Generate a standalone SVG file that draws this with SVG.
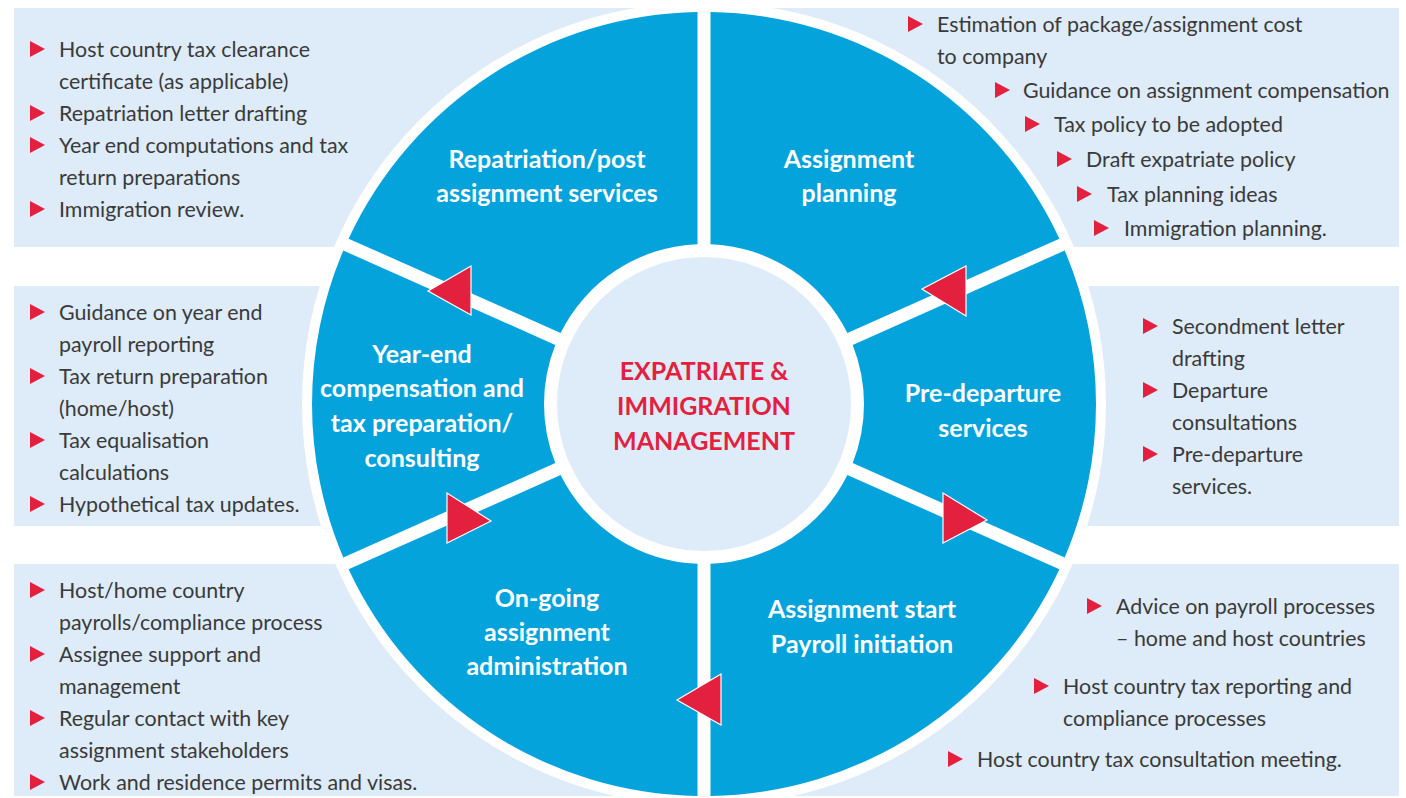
<svg xmlns="http://www.w3.org/2000/svg" xmlns:xlink="http://www.w3.org/1999/xlink" width="1406" height="798" viewBox="0 0 1406 798">
<style>
.box{fill:#DEEBF8}
.seg{fill:#05A3DC}
.bt{font-family:Lato,"Open Sans",sans-serif;font-size:21.4px;fill:#3A3A3A}
.lbl{font-family:Lato,"Open Sans",sans-serif;font-size:25px;font-weight:bold;fill:#FFFFFF;text-anchor:middle}
.ctr{font-family:Lato,"Open Sans",sans-serif;font-size:25px;font-weight:bold;fill:#E4203F;text-anchor:middle}
.bul{fill:#E4203F}
.arr{fill:#E4203F;stroke:#FFFFFF;stroke-width:1.2}
</style>
<defs>
<path id="b" d="M0,-8L15,0L0,8Z"/>
</defs>
<rect width="1406" height="798" fill="#FFFFFF"/>
<g id="panel-repatriation">
<rect class="box" x="14" y="8" width="690" height="239"/>
<g class="bul"><use xlink:href="#b" x="30" y="49"/><use xlink:href="#b" x="30" y="113"/><use xlink:href="#b" x="30" y="145"/><use xlink:href="#b" x="30" y="209"/></g>
<text class="bt"><tspan x="59" y="57">Host country tax clearance</tspan><tspan x="59" y="89">certificate (as applicable)</tspan><tspan x="59" y="121">Repatriation letter drafting</tspan><tspan x="59" y="153">Year end computations and tax</tspan><tspan x="59" y="185">return preparations</tspan><tspan x="59" y="217">Immigration review.</tspan></text>
</g>
<g id="panel-planning">
<rect class="box" x="704" y="8" width="695" height="239"/>
<g class="bul"><use xlink:href="#b" x="908" y="24"/><use xlink:href="#b" x="995" y="90"/><use xlink:href="#b" x="1025" y="124"/><use xlink:href="#b" x="1057" y="159"/><use xlink:href="#b" x="1077" y="194"/><use xlink:href="#b" x="1094" y="228"/></g>
<text class="bt"><tspan x="937" y="32">Estimation of package/assignment cost</tspan><tspan x="937" y="64">to company</tspan><tspan x="1023" y="98">Guidance on assignment compensation</tspan><tspan x="1054" y="132">Tax policy to be adopted</tspan><tspan x="1086" y="167">Draft expatriate policy</tspan><tspan x="1107" y="202">Tax planning ideas</tspan><tspan x="1124" y="236">Immigration planning.</tspan></text>
</g>
<g id="panel-yearend">
<rect class="box" x="14" y="286" width="340" height="240"/>
<g class="bul"><use xlink:href="#b" x="30" y="312"/><use xlink:href="#b" x="30" y="376"/><use xlink:href="#b" x="30" y="440"/><use xlink:href="#b" x="30" y="504"/></g>
<text class="bt"><tspan x="59" y="320">Guidance on year end</tspan><tspan x="59" y="352">payroll reporting</tspan><tspan x="59" y="384">Tax return preparation</tspan><tspan x="59" y="416">(home/host)</tspan><tspan x="59" y="448">Tax equalisation</tspan><tspan x="59" y="480">calculations</tspan><tspan x="59" y="512">Hypothetical tax updates.</tspan></text>
</g>
<g id="panel-predeparture">
<rect class="box" x="1060" y="286" width="339" height="240"/>
<g class="bul"><use xlink:href="#b" x="1143" y="326"/><use xlink:href="#b" x="1143" y="390"/><use xlink:href="#b" x="1143" y="454"/></g>
<text class="bt"><tspan x="1172" y="334">Secondment letter</tspan><tspan x="1172" y="366">drafting</tspan><tspan x="1172" y="398">Departure</tspan><tspan x="1172" y="430">consultations</tspan><tspan x="1172" y="462">Pre-departure</tspan><tspan x="1172" y="494">services.</tspan></text>
</g>
<g id="panel-ongoing">
<rect class="box" x="14" y="564" width="690" height="232"/>
<g class="bul"><use xlink:href="#b" x="30" y="590"/><use xlink:href="#b" x="30" y="654"/><use xlink:href="#b" x="30" y="718"/><use xlink:href="#b" x="30" y="782"/></g>
<text class="bt"><tspan x="59" y="598">Host/home country</tspan><tspan x="59" y="630">payrolls/compliance process</tspan><tspan x="59" y="662">Assignee support and</tspan><tspan x="59" y="694">management</tspan><tspan x="59" y="726">Regular contact with key</tspan><tspan x="59" y="758">assignment stakeholders</tspan><tspan x="59" y="790">Work and residence permits and visas.</tspan></text>
</g>
<g id="panel-start">
<rect class="box" x="704" y="564" width="695" height="232"/>
<g class="bul"><use xlink:href="#b" x="1087" y="606"/><use xlink:href="#b" x="1034" y="686"/><use xlink:href="#b" x="948" y="759"/></g>
<text class="bt"><tspan x="1116" y="614">Advice on payroll processes</tspan><tspan x="1116" y="646">– home and host countries</tspan><tspan x="1063" y="694">Host country tax reporting and</tspan><tspan x="1063" y="726">compliance processes</tspan><tspan x="977" y="767">Host country tax consultation meeting.</tspan></text>
</g>
<circle cx="704" cy="404" r="402" fill="#FFFFFF"/>
<g id="node-planning">
<path class="seg" d="M710.5,12.05A392,392 0 0 1 1059.42,238.64L847.4,333.03A160,160 0 0 0 710.5,244.13Z"/>
<text class="lbl"><tspan x="849" y="168">Assignment</tspan><tspan x="849" y="202">planning</tspan></text>
</g>
<g id="node-predeparture">
<path class="seg" d="M1064.7,250.52A392,392 0 0 1 1064.7,557.48L852.69,463.08A160,160 0 0 0 852.69,344.92Z"/>
<text class="lbl"><tspan x="983" y="402">Pre-departure</tspan><tspan x="983" y="437">services</tspan></text>
</g>
<g id="node-start">
<path class="seg" d="M710.5,795.95A392,392 0 0 0 1059.42,569.36L847.4,474.97A160,160 0 0 1 710.5,563.87Z"/>
<text class="lbl"><tspan x="862" y="618">Assignment start</tspan><tspan x="862" y="653">Payroll initiation</tspan></text>
</g>
<g id="node-ongoing">
<path class="seg" d="M697.5,795.95L697.5,563.87A160,160 0 0 1 560.6,474.97L348.58,569.36A392,392 0 0 0 697.5,795.95Z"/>
<text class="lbl"><tspan x="547" y="607">On-going</tspan><tspan x="547" y="641">assignment</tspan><tspan x="547" y="675">administration</tspan></text>
</g>
<g id="node-yearend">
<path class="seg" d="M343.3,250.52L555.31,344.92A160,160 0 0 0 555.31,463.08L343.3,557.48A392,392 0 0 1 343.3,250.52Z"/>
<text class="lbl"><tspan x="422" y="363">Year-end</tspan><tspan x="422" y="397">compensation and</tspan><tspan x="422" y="432">tax preparation/</tspan><tspan x="422" y="467">consulting</tspan></text>
</g>
<g id="node-repatriation">
<path class="seg" d="M697.5,12.05L697.5,244.13A160,160 0 0 0 560.6,333.03L348.58,238.64A392,392 0 0 1 697.5,12.05Z"/>
<text class="lbl"><tspan x="547" y="168">Repatriation/post</tspan><tspan x="547" y="202">assignment services</tspan></text>
</g>
<g id="node-center">
<circle cx="704" cy="404" r="147" fill="#DEEBF8"/>
<text class="ctr"><tspan x="704" y="380">EXPATRIATE &amp;</tspan><tspan x="704" y="415">IMMIGRATION</tspan><tspan x="704" y="450">MANAGEMENT</tspan></text>
</g>
<g id="connectors">
<polygon class="arr" points="922,289 966,266 966,316"/>
<polygon class="arr" points="987,520 943,493 943,543"/>
<polygon class="arr" points="677,700 721,674 721,725"/>
<polygon class="arr" points="491,521 447,493 447,543"/>
<polygon class="arr" points="428,291 471,266 471,315"/>
</g>
</svg>
